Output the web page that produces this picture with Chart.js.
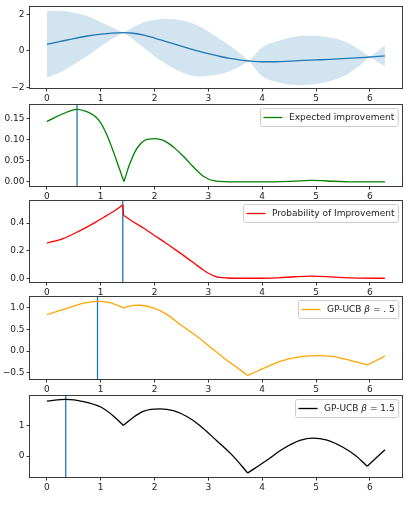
<!DOCTYPE html>
<html>
<head>
<meta charset="utf-8">
<script src="https://cdn.jsdelivr.net/npm/chart.js@4.4.1/dist/chart.umd.min.js"></script>
<style>
  html, body { margin: 0; padding: 0; background: #fff; }
  #wrap { position: relative; width: 407px; height: 505px; overflow: hidden; }
  canvas { position: absolute; left: 0; }
</style>
</head>
<body>
<div id="wrap">
  <canvas id="p1"></canvas>
  <canvas id="p2"></canvas>
  <canvas id="p3"></canvas>
  <canvas id="p4"></canvas>
  <canvas id="p5"></canvas>
</div>
<script>
// shared x axis
const xTicks = [0, 1, 2, 3, 4, 5, 6];
const xRange = [-0.314, 6.597];

// GP posterior: mean and confidence band
const gpX = [0, 0.25, 0.5, 0.75, 1.0, 1.2, 1.42, 1.6, 1.8, 2.0, 2.2, 2.4, 2.6, 2.8, 3.0, 3.2, 3.4, 3.6, 3.76,
  4.0, 4.25, 4.5, 4.75, 5.0, 5.25, 5.5, 5.75, 6.0, 6.15, 6.28];
const gpMean = [0.36, 0.52, 0.68, 0.82, 0.92, 0.98, 1.0, 0.97, 0.87, 0.71, 0.53, 0.35, 0.17, 0.0, -0.15, -0.29, -0.41, -0.5, -0.55,
  -0.59, -0.59, -0.56, -0.52, -0.49, -0.46, -0.42, -0.38, -0.33, -0.3, -0.27];
const gpUpper = [2.18, 2.2, 2.1, 1.92, 1.58, 1.32, 1.0, 1.3, 1.57, 1.71, 1.75, 1.73, 1.62, 1.4, 1.07, 0.69, 0.29, -0.17, -0.55,
  0.21, 0.51, 0.72, 0.83, 0.83, 0.74, 0.56, 0.17, -0.33, 0.0, 0.31];
const gpLower = [-1.46, -1.16, -0.74, -0.28, 0.26, 0.64, 1.0, 0.64, 0.17, -0.29, -0.69, -1.03, -1.28, -1.4, -1.37, -1.27, -1.11, -0.83, -0.55,
  -1.39, -1.69, -1.84, -1.87, -1.81, -1.66, -1.4, -0.93, -0.33, -0.6, -0.85];
const gpPinch = [1.42, 3.76, 6.0];
const gpRange = [-2.03, 2.41];
const gpYTicks = [-2, 0, 2];
const gpYLabels = ['\u22122', '0', '2'];

// expected improvement
const eiX = [0, 0.15, 0.31, 0.45, 0.56, 0.7, 0.8, 0.9, 1.0, 1.08, 1.15, 1.21, 1.27, 1.33, 1.38, 1.43, 1.47, 1.515, 1.57, 1.64,
  1.72, 1.82, 1.9, 2.01, 2.1, 2.19, 2.28, 2.38, 2.53, 2.65, 2.8, 2.9, 3.0, 3.1, 3.2, 3.4, 3.8, 4.2, 4.5, 4.7, 4.9, 5.1, 5.3,
  5.6, 6.0, 6.28];
const eiY = [0.142, 0.152, 0.161, 0.168, 0.1705, 0.167, 0.162, 0.154, 0.139, 0.12, 0.1, 0.08, 0.059, 0.037, 0.019, 0.001,
  0.016, 0.034, 0.052, 0.072, 0.087, 0.098, 0.101, 0.102, 0.1, 0.096, 0.089, 0.079, 0.061, 0.045, 0.025, 0.014, 0.007, 0.003,
  0.0012, 0.0002, 0, 0.0002, 0.0012, 0.0027, 0.0035, 0.003, 0.0017, 0.0004, 0, 0];
const eiKinks = [1.43];
const eiBest = 0.56;
const eiRange = [-0.0095, 0.181];
const eiYTicks = [0, 0.05, 0.1, 0.15];
const eiYLabels = ['0.00', '0.05', '0.10', '0.15'];

// probability of improvement
const piX = [0, 0.3, 0.6, 0.9, 1.1, 1.25, 1.41, 1.425, 1.6, 1.8, 2.0, 2.2, 2.4, 2.6, 2.8, 2.9, 3.0, 3.1, 3.2, 3.35, 3.6, 4.0,
  4.3, 4.6, 4.9, 5.2, 5.5, 5.8, 6.28];
const piY = [0.255, 0.288, 0.342, 0.405, 0.452, 0.488, 0.532, 0.455, 0.41, 0.362, 0.31, 0.258, 0.204, 0.148, 0.09, 0.062, 0.036,
  0.018, 0.007, 0.002, 0.0003, 0.0003, 0.003, 0.011, 0.016, 0.012, 0.004, 0.001, 0];
const piKinks = [1.41, 1.425];
const piBest = 1.41;
const piRange = [-0.027, 0.56];
const piYTicks = [0, 0.2, 0.4];
const piYLabels = ['0.0', '0.2', '0.4'];

// GP-UCB beta = .5
const ucbAX = [0, 0.37, 0.68, 0.94, 1.17, 1.42, 1.61, 1.73, 1.98, 2.23, 2.47, 2.78, 3.0, 3.28, 3.5, 3.73, 4.0, 4.26, 4.5, 4.76,
  5.05, 5.25, 5.5, 5.75, 5.95, 6.28];
const ucbAY = [0.846, 0.985, 1.11, 1.15, 1.12, 1.0, 1.055, 1.06, 1.0, 0.85, 0.62, 0.35, 0.13, -0.15, -0.35, -0.56, -0.41,
  -0.27, -0.18, -0.12, -0.105, -0.115, -0.17, -0.25, -0.32, -0.115];
const ucbAKinks = [1.42, 3.73, 5.95];
const ucbABest = 0.94;
const ucbARange = [-0.643, 1.25];
const ucbAYTicks = [-0.5, 0, 0.5, 1];
const ucbAYLabels = ['\u22120.5', '0.0', '0.5', '1.0'];

// GP-UCB beta = 1.5
const ucbBX = [0, 0.35, 0.68, 1.0, 1.24, 1.42, 1.61, 1.79, 2.1, 2.35, 2.6, 2.84, 3.15, 3.46, 3.73, 4.08, 4.39, 4.7, 4.94, 5.19,
  5.5, 5.75, 5.95, 6.28];
const ucbBY = [1.79, 1.85, 1.78, 1.6, 1.3, 1.0, 1.27, 1.46, 1.54, 1.48, 1.29, 1.0, 0.51, 0.0, -0.55, -0.14, 0.24, 0.51, 0.59,
  0.53, 0.29, 0.0, -0.33, 0.21];
const ucbBKinks = [1.42, 3.73, 5.95];
const ucbBBest = 0.35;
const ucbBRange = [-0.68, 1.96];
const ucbBYTicks = [0, 1];
const ucbBYLabels = ['0', '1'];

const LW = 1.3;
const FONT = { family: '"DejaVu Sans", sans-serif', size: 9 };

// split a curve at its kinks so the monotone spline keeps the corners sharp
function pieces(xs, ys, cuts) {
  const out = [[]];
  xs.forEach((x, i) => {
    out[out.length - 1].push({ x, y: ys[i] });
    if (cuts.includes(x) && i > 0 && i < xs.length - 1) out.push([{ x, y: ys[i] }]);
  });
  return out;
}

const curve = (xs, ys, cuts, color) => pieces(xs, ys, cuts).map(d => ({
  data: d, borderColor: color, borderWidth: LW, pointRadius: 0,
  cubicInterpolationMode: 'monotone', fill: false
}));

const vline = (x, range) => ({
  data: [{ x, y: range[0] }, { x, y: range[1] }],
  borderColor: '#1f77b4', borderWidth: LW, pointRadius: 0, tension: 0, fill: false
});

const frame = {
  id: 'frame',
  afterDatasetsDraw(chart) {
    const { ctx, chartArea: a } = chart;
    ctx.save();
    ctx.strokeStyle = '#3a3a3a';
    ctx.lineWidth = 1;
    const l = Math.round(a.left) - 0.5, t = Math.round(a.top) - 0.5;
    ctx.strokeRect(l, t, Math.round(a.right) - Math.round(a.left) + 1, Math.round(a.bottom) - Math.round(a.top) + 1);
    ctx.restore();
  }
};

const boxLegend = {
  id: 'boxLegend',
  afterDraw(chart, args, opts) {
    if (!opts.label) return;
    const { ctx, chartArea: a } = chart;
    const normal = '9px "DejaVu Sans"', italic = 'italic 9px "DejaVu Sans"';
    const segs = [];
    opts.label.split('β').forEach((p, i) => {
      if (i > 0) segs.push({ t: 'β', f: italic });
      if (p) segs.push({ t: p, f: normal });
    });
    ctx.save();
    let tw = 0;
    segs.forEach(s => { ctx.font = s.f; s.w = ctx.measureText(s.t).width; tw += s.w; });
    const h = 18, padL = 3, hl = 19, gap = 6.5, padR = 4, r = 2;
    const w = padL + hl + gap + tw + padR;
    const x = Math.round(a.right - 4 - w) + 0.5, y = Math.round(a.top + 3) + 0.5;
    ctx.beginPath();
    ctx.moveTo(x + r, y);
    ctx.arcTo(x + w, y, x + w, y + h, r);
    ctx.arcTo(x + w, y + h, x, y + h, r);
    ctx.arcTo(x, y + h, x, y, r);
    ctx.arcTo(x, y, x + w, y, r);
    ctx.closePath();
    ctx.fillStyle = 'rgba(255,255,255,0.8)';
    ctx.fill();
    ctx.strokeStyle = '#cccccc';
    ctx.lineWidth = 1;
    ctx.stroke();
    ctx.beginPath();
    ctx.moveTo(x + padL, y + h / 2);
    ctx.lineTo(x + padL + hl, y + h / 2);
    ctx.strokeStyle = opts.color;
    ctx.lineWidth = LW;
    ctx.stroke();
    ctx.fillStyle = '#222';
    ctx.textBaseline = 'middle';
    let tx = x + padL + hl + gap;
    segs.forEach(s => { ctx.font = s.f; ctx.fillText(s.t, tx, y + h / 2 + 0.5); tx += s.w; });
    ctx.restore();
  }
};

function makePanel(id, box, datasets, range, yTicks, yLabels, legend) {
  const [top, bottom] = box;
  const cv = document.getElementById(id);
  cv.width = 407;
  cv.height = bottom - top + 26;
  cv.style.top = (top - 10) + 'px';
  return new Chart(cv, {
    type: 'line',
    data: { datasets },
    options: {
      responsive: false,
      animation: false,
      events: [],
      layout: { padding: { left: 0, right: 5, top: 10, bottom: 0 } },
      plugins: {
        legend: { display: false },
        tooltip: { enabled: false },
        boxLegend: legend || {}
      },
      scales: {
        x: {
          type: 'linear', min: xRange[0], max: xRange[1], bounds: 'data',
          afterBuildTicks: s => { s.ticks = xTicks.map(v => ({ value: v })); },
          afterFit: s => { s.height = 16; },
          ticks: { font: FONT, color: '#222', padding: 2, maxRotation: 0, autoSkip: false, callback: v => String(v) },
          grid: { drawOnChartArea: false, tickLength: 3.5, color: '#333', tickWidth: 1 },
          border: { display: false }
        },
        y: {
          type: 'linear', min: range[0], max: range[1], bounds: 'data',
          afterBuildTicks: s => { s.ticks = yTicks.map(v => ({ value: v })); },
          afterFit: s => { s.width = 30; },
          ticks: { font: FONT, color: '#222', padding: 2, autoSkip: false, callback: (v, i) => yLabels[i] },
          grid: { drawOnChartArea: false, tickLength: 3.5, color: '#333', tickWidth: 1 },
          border: { display: false }
        }
      }
    },
    plugins: [frame, boxLegend]
  });
}

// top panel: mean line first (drawn on top), then band pieces; each upper fills down to its lower
const gpSets = curve(gpX, gpMean, [], '#1f77b4');
const upPieces = pieces(gpX, gpUpper, gpPinch);
const loPieces = pieces(gpX, gpLower, gpPinch);
upPieces.forEach((u, k) => {
  const lowerIndex = gpSets.length + 1;
  gpSets.push({ data: u, borderColor: 'rgba(0,0,0,0)', borderWidth: 1, pointRadius: 0,
    cubicInterpolationMode: 'monotone', fill: lowerIndex, backgroundColor: 'rgba(31,119,180,0.2)' });
  gpSets.push({ data: loPieces[k], borderColor: 'rgba(0,0,0,0)', borderWidth: 1, pointRadius: 0,
    cubicInterpolationMode: 'monotone', fill: false });
});

makePanel('p1', [7, 88], gpSets, gpRange, gpYTicks, gpYLabels, null);

makePanel('p2', [105, 186], [...curve(eiX, eiY, eiKinks, '#008000'), vline(eiBest, eiRange)],
  eiRange, eiYTicks, eiYLabels, { label: 'Expected improvement', color: '#008000' });

makePanel('p3', [201, 282], [...curve(piX, piY, piKinks, '#ff0000'), vline(piBest, piRange)],
  piRange, piYTicks, piYLabels, { label: 'Probability of Improvement', color: '#ff0000' });

makePanel('p4', [297, 379], [...curve(ucbAX, ucbAY, ucbAKinks, '#ffa500'), vline(ucbABest, ucbARange)],
  ucbARange, ucbAYTicks, ucbAYLabels, { label: 'GP-UCB β = . 5', color: '#ffa500' });

makePanel('p5', [396, 477], [...curve(ucbBX, ucbBY, ucbBKinks, '#000000'), vline(ucbBBest, ucbBRange)],
  ucbBRange, ucbBYTicks, ucbBYLabels, { label: 'GP-UCB β = 1.5', color: '#000000' });
</script>
</body>
</html>
